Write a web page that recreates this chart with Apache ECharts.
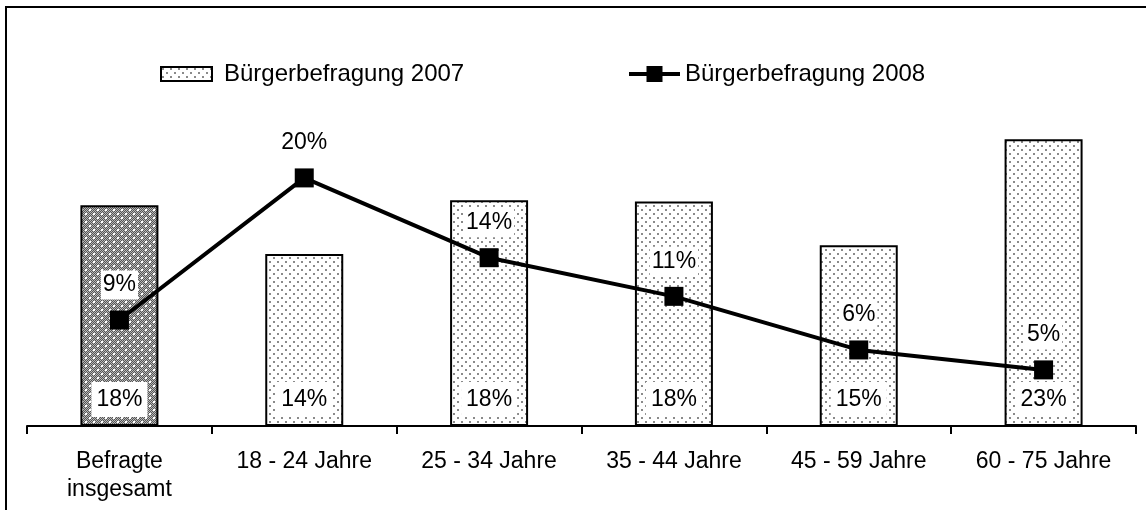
<!DOCTYPE html>
<html>
<head>
<meta charset="utf-8">
<script src="https://cdn.jsdelivr.net/npm/echarts@6/dist/echarts.min.js"></script>
<style>
  html, body { margin: 0; padding: 0; background: #fff; }
  #chart { width: 1146px; height: 510px; }
</style>
</head>
<body>
<div id="chart"></div>
<script>
// Daten (Hoehen, Beschriftungen wie im Original)
var categories = ['Befragte\ninsgesamt', '18 - 24 Jahre', '25 - 34 Jahre', '35 - 44 Jahre', '45 - 59 Jahre', '60 - 75 Jahre'];
var values2007 = [17.7, 13.8, 18.1, 18.0, 14.5, 23.0];
var labels2007 = ['18%', '14%', '18%', '18%', '15%', '23%'];
var values2008 = [8.5, 19.9, 13.5, 10.4, 6.1, 4.5];
var labels2008 = ['9%', '20%', '14%', '11%', '6%', '5%'];
var seriesNames = ['Bürgerbefragung 2007', 'Bürgerbefragung 2008'];

// Punktraster fuer die Balken
function makePattern(dark) {
    var c = document.createElement('canvas');
    c.width = 8;
    c.height = 8;
    var ctx = c.getContext('2d');
    if (dark) {
        for (var x = 0; x < 8; x++) {
            for (var y = 0; y < 8; y++) {
                ctx.fillStyle = (x + y) % 2 ? '#555555' : '#b8b8b8';
                ctx.fillRect(x, y, 1, 1);
            }
        }
        ctx.fillStyle = '#ffffff';
        ctx.fillRect(1, 1, 2, 2);
        ctx.fillRect(5, 5, 2, 2);
    } else {
        ctx.fillStyle = '#ffffff';
        ctx.fillRect(0, 0, 8, 8);
        ctx.fillStyle = '#8a8a8a';
        ctx.fillRect(1, 1, 2, 2);
        ctx.fillRect(5, 5, 2, 2);
    }
    return { image: c, repeat: 'repeat' };
}

var lightPattern = makePattern(false);
var darkPattern = makePattern(true);

var barData = values2007.map(function (v, i) {
    if (i === 0) {
        return { value: v, itemStyle: { color: darkPattern } };
    }
    return v;
});

var font = '"Liberation Sans", Arial, sans-serif';

var chart = echarts.init(document.getElementById('chart'));

var option = {
    animation: false,
    textStyle: { fontFamily: font, color: '#000' },
    graphic: [
        {
            type: 'rect',
            shape: { x: 6, y: 7, width: 1200, height: 600 },
            style: { fill: 'none', stroke: '#000', lineWidth: 2 },
            silent: true
        }
    ],
    legend: [
        {
            left: 160,
            top: 62,
            padding: 0,
            data: [{ name: seriesNames[0], icon: 'rect' }],
            itemWidth: 51,
            itemHeight: 14,
            itemStyle: { borderColor: '#000', borderWidth: 2 },
            textStyle: { fontSize: 24, color: '#000', fontFamily: font, padding: [0, 0, 0, 7] }
        },
        {
            left: 627,
            top: 62,
            padding: 0,
            data: [seriesNames[1]],
            itemWidth: 51,
            itemHeight: 20,
            lineStyle: { width: 4 },
            textStyle: { fontSize: 24, color: '#000', fontFamily: font }
        }
    ],
    grid: {
        left: 27,
        right: 10,
        top: 52,
        bottom: 84
    },
    xAxis: {
        type: 'category',
        data: categories,
        axisLine: { lineStyle: { color: '#000', width: 2 } },
        axisTick: { show: true, length: 8, lineStyle: { color: '#000', width: 2 } },
        axisLabel: {
            color: '#000',
            fontSize: 23,
            lineHeight: 28,
            margin: 22,
            fontFamily: font
        }
    },
    yAxis: {
        type: 'value',
        min: 0,
        max: 30,
        show: false,
        splitLine: { show: false }
    },
    series: [
        {
            name: seriesNames[0],
            type: 'bar',
            barWidth: 78,
            data: barData,
            itemStyle: {
                color: lightPattern,
                borderColor: '#000',
                borderWidth: 2
            },
            label: {
                show: true,
                position: 'insideBottom',
                distance: 9,
                formatter: function (p) { return labels2007[p.dataIndex]; },
                fontSize: 23,
                color: '#000',
                fontFamily: font,
                backgroundColor: '#fff',
                padding: [6, 5]
            }
        },
        {
            name: seriesNames[1],
            type: 'line',
            data: values2008,
            symbol: 'rect',
            symbolSize: 19,
            lineStyle: { color: '#000', width: 4 },
            itemStyle: { color: '#000' },
            label: {
                show: true,
                position: 'top',
                distance: 11,
                formatter: function (p) { return labels2008[p.dataIndex]; },
                fontSize: 23,
                color: '#000',
                fontFamily: font,
                backgroundColor: '#fff',
                padding: [3, 2]
            },
            z: 5
        }
    ]
};

chart.setOption(option);
</script>
</body>
</html>
